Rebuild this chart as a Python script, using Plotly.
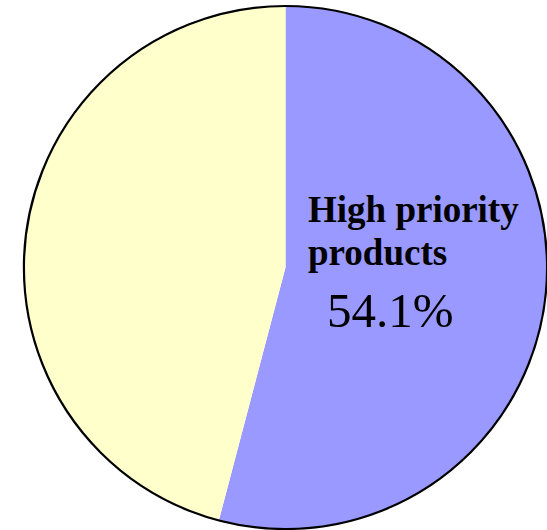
import plotly.graph_objects as go

# Share of products by priority
labels = ["High priority products", "Other products"]
values = [54.1, 45.9]
colors = ["#9999FF", "#FFFFCC"]

W, H = 547, 530
M_L, M_R, M_T, M_B = 24, 0, 6, 1
PW, PH = W - M_L - M_R, H - M_T - M_B


def px(x):
    return (x - M_L) / PW


def py(y):
    return 1 - (y - M_T) / PH


fig = go.Figure()

# Filled slices, no stroke so the radial boundary is a plain colour edge
fig.add_trace(go.Pie(
    labels=labels,
    values=values,
    marker=dict(colors=colors, line=dict(width=0)),
    sort=False,
    direction="clockwise",
    rotation=0,
    textinfo="none",
    hoverinfo="label+percent",
    showlegend=False,
))

# Black rim around the whole pie
fig.add_trace(go.Pie(
    labels=["rim"],
    values=[sum(values)],
    marker=dict(colors=["rgba(0,0,0,0)"], line=dict(color="black", width=2.2)),
    textinfo="none",
    hoverinfo="skip",
    showlegend=False,
))

serif = "Liberation Serif, Times New Roman, serif"
total = sum(values)
pct = f"{values[0] / total * 100:.1f}%"
name_lines = ["High priority", "products"]

annotations = [
    dict(x=px(306), y=py(209), text=f"<b>{name_lines[0]}</b>"),
    dict(x=px(306), y=py(252), text=f"<b>{name_lines[1]}</b>"),
]
for a in annotations:
    a.update(xref="paper", yref="paper", xanchor="left", yanchor="middle",
             showarrow=False, font=dict(family=serif, size=37, color="black"))
annotations.append(dict(
    x=px(325), y=py(310), xref="paper", yref="paper",
    xanchor="left", yanchor="middle", showarrow=False, text=pct,
    font=dict(family=serif, size=49, color="black"),
))

fig.update_layout(
    width=W,
    height=H,
    margin=dict(l=M_L, r=M_R, t=M_T, b=M_B, pad=0),
    paper_bgcolor="white",
    plot_bgcolor="white",
    annotations=annotations,
)

fig.write_html("out.html")
